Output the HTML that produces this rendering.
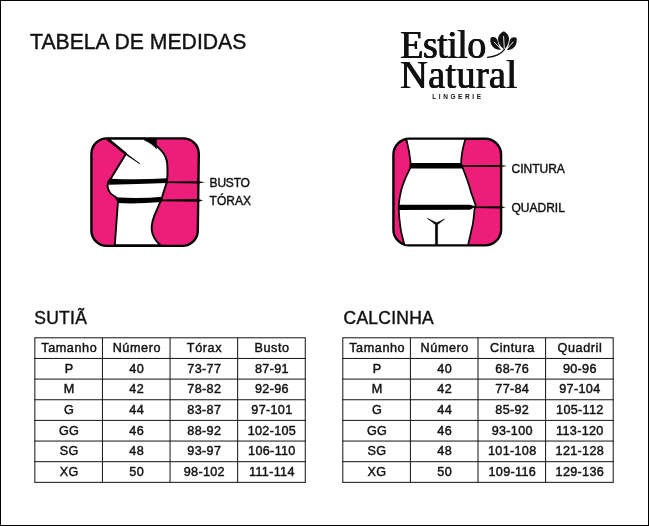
<!DOCTYPE html>
<html lang="pt-BR">
<head>
<meta charset="utf-8">
<title>Tabela de Medidas</title>
<style>
html,body{margin:0;padding:0;background:#fff;}
body{width:649px;height:526px;position:relative;overflow:hidden;font-family:"Liberation Sans",sans-serif;color:#111;}
#frame{position:absolute;left:0;top:0;width:647px;height:524px;border:1px solid #000;}
.abs{position:absolute;white-space:nowrap;line-height:1;}
#title{left:30.4px;top:31.6px;font-size:21.5px;transform:scaleX(0.986);transform-origin:0 0;-webkit-text-stroke:0.4px #111;}
.h2{font-size:17.5px;letter-spacing:0.25px;-webkit-text-stroke:0.4px #111;}
#h-sutia{left:34.3px;top:309.5px;}
#h-calc{left:343.5px;top:309.5px;}
.lbl{font-size:12px;-webkit-text-stroke:0.4px #111;}
#logo1,#logo2{font-family:"Liberation Serif",serif;font-size:38px;color:#111;transform-origin:0 0;text-shadow:0.55px 0 #111,-0.55px 0 #111;transform:scaleY(1.06);}
#logo1{left:400.3px;top:23.6px;letter-spacing:-0.55px;}
#logo2{left:400.3px;top:53.9px;letter-spacing:0.45px;}
#logo3{left:432.2px;top:94.2px;font-size:6.5px;font-weight:bold;letter-spacing:2.6px;}
svg{position:absolute;left:0;top:0;display:block;overflow:hidden;}
.tt text{font-family:"Liberation Sans",sans-serif;font-size:12.1px;text-anchor:middle;fill:#111;stroke:#111;stroke-width:0.42px;letter-spacing:0.3px;}
.tt .hd text{letter-spacing:0.55px;}
</style>
</head>
<body>
<div id="frame"></div>

<div id="title" class="abs">TABELA DE MEDIDAS</div>

<div id="logo1" class="abs">Estilo</div>
<div id="logo2" class="abs">Natural</div>
<div id="logo3" class="abs">LINGERIE</div>

<svg width="649" height="526" viewBox="0 0 649 526">
  <!-- leaf icon -->
  <g fill="#111" stroke="none">
    <path d="M503.9,31.2 C508,33.5 509.6,37 508.9,40.5 C508.3,44.5 506.5,47.5 504.3,49.5 C501.5,47.5 498.5,44 498.1,40 C497.8,36 500,33 503.9,31.2 Z"/>
    <path d="M490.4,38.2 C492,36.3 495.5,36.5 497.2,39.5 C498.3,42 498,45.5 501.3,49.8 C497,50.2 493,48.5 491.3,44.5 C490.5,42.5 490.2,40.5 490.4,38.2 Z"/>
    <path d="M516.7,38 C514.5,36.6 511.5,37.2 510.2,39.5 C509,42 509.3,45.5 506.8,49.8 C510.5,50.3 514.5,48.5 516,44.5 C516.7,42.5 516.9,40.5 516.7,38 Z"/>
  </g>
  <g fill="none" stroke="#fff" stroke-width="0.9" stroke-linecap="round">
    <path d="M503.6,36.5 L504.3,48.3"/>
    <path d="M494.1,42 L501.1,49.3"/>
    <path d="M513.1,42 L506.7,49.3"/>
  </g>
  <path d="M504.3,49.6 C502.5,52 500,53.8 497.6,54.8 C494.5,56.2 491,57 487.5,57.3" fill="none" stroke="#111" stroke-width="1.35" stroke-linecap="round"/>

  <!-- bust illustration -->
  <g id="ill1" stroke-linejoin="round">
    <path d="M106.9,138.4 L183.3,138.4 A15.5,15.5 0 0 1 198.8,153.9 L197.8,230.4 A15.5,15.5 0 0 1 182.3,245.9 L106.9,245.9 A15.5,15.5 0 0 1 91.4,230.4 L91.4,153.9 A15.5,15.5 0 0 1 106.9,138.4 Z" fill="#ed1e79" stroke="#000" stroke-width="2.4"/>
    <!-- body white -->
    <path d="M108,138.7 L126,153.8 L110.5,179 C105.8,184 106.6,192.5 115.5,196.8 L118,201 L114.8,245.2 L160.4,245.2 C150,236 149,226 156.8,210 L161.7,198.4 L164.1,190.3 C167,183 168,178 167.3,165 C167,153 158,146 145,138.7 Z" fill="#fff" stroke="#000" stroke-width="1.9"/>
    <!-- black wedge at top -->
    <path d="M144.5,139.3 L156.4,139.3 L156.4,148.8 C153.5,145.2 150,142.6 144.5,140.2 Z" fill="#000" stroke="#000" stroke-width="0.6"/>
    <!-- shoulder + arm line -->
    <path d="M107.6,139.4 L126,153.8" fill="none" stroke="#000" stroke-width="2.3"/>
    <path d="M125.2,152.8 L139.8,163.7 L126.4,154.9 Z" fill="#000" stroke="#000" stroke-width="0.7"/>
    <!-- bust band -->
    <path d="M111,178.7 Q137,180.2 167.4,178.3 L167.4,183 Q137,184.4 108.3,184.7 Z" fill="#000"/>
    <path d="M166,181.6 L198.6,181.2 L204.9,182.3 L198.6,183.4 L166,183 Z" fill="#000"/>
    <!-- torax band -->
    <path d="M115.5,197.2 Q138,199 163,196.7 L161.7,202 Q138,204 117.8,203.1 Z" fill="#000"/>
    <path d="M161,199.5 L198.5,199.1 L203,200.4 L198.5,201.7 L161,201.2 Z" fill="#000"/>
  </g>

  <!-- hip illustration -->
  <g id="ill2" stroke-linejoin="round">
    <rect x="393.4" y="138.7" width="107.7" height="106.7" rx="16" ry="16" fill="#ed1e79" stroke="#000" stroke-width="2.4"/>
    <path d="M406.3,139 L465.4,139 Q461.3,152 461.1,163.6 L463,168.7 C465.5,175 469,184 471,192.3 L475.7,205.4 L474.5,209.4 C474,215 473.5,220 472.8,224.2 L468.1,245 L404.6,245 C402.5,238 401.2,233 400.5,227.6 C399.5,221 399,216 398.8,210 L398.8,204.8 C399.3,199 400.2,194 401.3,190 C402.6,185 406.5,175.5 410.2,168.2 L410.6,162.7 Q409.5,151 406.3,139 Z" fill="#fff" stroke="#000" stroke-width="1.7"/>
    <!-- waist band -->
    <path d="M410,163.1 L461.3,163.1 L463.4,168.6 L409.8,168.4 Z" fill="#000"/>
    <path d="M461,165.3 L501,164.9 L507,166 L501,167.1 L461,166.7 Z" fill="#000"/>
    <!-- hip band -->
    <path d="M398.4,204.8 L470,204.8 L476,206.6 L470,209.8 L398.4,210 Z" fill="#000"/>
    <path d="M474,206.6 L501,206.2 L505.6,207.3 L501,208.4 L474,208 Z" fill="#000"/>
    <!-- Y -->
    <path d="M427.2,218.2 L436.6,222.8 L444.7,219 L437.6,224.6 L437.6,244.6 L435.4,244.6 L435.4,224.6 Z" fill="#000" stroke="#000" stroke-width="0.5"/>
  </g>
  <!-- table grids -->
  <g stroke="#111" stroke-width="1" fill="none">
    <line x1="34.35" y1="337.80" x2="305.75" y2="337.80"/>
    <line x1="34.35" y1="358.45" x2="305.75" y2="358.45"/>
    <line x1="34.35" y1="379.10" x2="305.75" y2="379.10"/>
    <line x1="34.35" y1="399.75" x2="305.75" y2="399.75"/>
    <line x1="34.35" y1="420.40" x2="305.75" y2="420.40"/>
    <line x1="34.35" y1="441.05" x2="305.75" y2="441.05"/>
    <line x1="34.35" y1="461.70" x2="305.75" y2="461.70"/>
    <line x1="34.35" y1="482.35" x2="305.75" y2="482.35"/>
    <line x1="34.85" y1="337.80" x2="34.85" y2="482.35"/>
    <line x1="102.45" y1="337.80" x2="102.45" y2="482.35"/>
    <line x1="170.05" y1="337.80" x2="170.05" y2="482.35"/>
    <line x1="237.65" y1="337.80" x2="237.65" y2="482.35"/>
    <line x1="305.25" y1="337.80" x2="305.25" y2="482.35"/>
    <line x1="342.30" y1="337.80" x2="613.70" y2="337.80"/>
    <line x1="342.30" y1="358.45" x2="613.70" y2="358.45"/>
    <line x1="342.30" y1="379.10" x2="613.70" y2="379.10"/>
    <line x1="342.30" y1="399.75" x2="613.70" y2="399.75"/>
    <line x1="342.30" y1="420.40" x2="613.70" y2="420.40"/>
    <line x1="342.30" y1="441.05" x2="613.70" y2="441.05"/>
    <line x1="342.30" y1="461.70" x2="613.70" y2="461.70"/>
    <line x1="342.30" y1="482.35" x2="613.70" y2="482.35"/>
    <line x1="342.80" y1="337.80" x2="342.80" y2="482.35"/>
    <line x1="410.40" y1="337.80" x2="410.40" y2="482.35"/>
    <line x1="478.00" y1="337.80" x2="478.00" y2="482.35"/>
    <line x1="545.60" y1="337.80" x2="545.60" y2="482.35"/>
    <line x1="613.20" y1="337.80" x2="613.20" y2="482.35"/>
  </g>
  <!-- table text -->
  <g id="t1" class="tt">
    <g class="hd">
      <text transform="translate(69.24,351.95) scale(1.045,1)">Tamanho</text>
      <text transform="translate(136.84,351.95) scale(1.045,1)">Número</text>
      <text transform="translate(204.44,351.95) scale(1.045,1)">Tórax</text>
      <text transform="translate(272.04,351.95) scale(1.045,1)">Busto</text>
    </g>
    <g class="rw">
      <text transform="translate(69.11,372.61) scale(1.045,1)">P</text>
      <text transform="translate(136.71,372.61) scale(1.045,1)">40</text>
      <text transform="translate(204.31,372.61) scale(1.045,1)">73-77</text>
      <text transform="translate(271.91,372.61) scale(1.045,1)">87-91</text>
    </g>
    <g class="rw">
      <text transform="translate(69.11,393.27) scale(1.045,1)">M</text>
      <text transform="translate(136.71,393.27) scale(1.045,1)">42</text>
      <text transform="translate(204.31,393.27) scale(1.045,1)">78-82</text>
      <text transform="translate(271.91,393.27) scale(1.045,1)">92-96</text>
    </g>
    <g class="rw">
      <text transform="translate(69.11,413.93) scale(1.045,1)">G</text>
      <text transform="translate(136.71,413.93) scale(1.045,1)">44</text>
      <text transform="translate(204.31,413.93) scale(1.045,1)">83-87</text>
      <text transform="translate(271.91,413.93) scale(1.045,1)">97-101</text>
    </g>
    <g class="rw">
      <text transform="translate(69.11,434.59) scale(1.045,1)">GG</text>
      <text transform="translate(136.71,434.59) scale(1.045,1)">46</text>
      <text transform="translate(204.31,434.59) scale(1.045,1)">88-92</text>
      <text transform="translate(271.91,434.59) scale(1.045,1)">102-105</text>
    </g>
    <g class="rw">
      <text transform="translate(69.11,455.25) scale(1.045,1)">SG</text>
      <text transform="translate(136.71,455.25) scale(1.045,1)">48</text>
      <text transform="translate(204.31,455.25) scale(1.045,1)">93-97</text>
      <text transform="translate(271.91,455.25) scale(1.045,1)">106-110</text>
    </g>
    <g class="rw">
      <text transform="translate(69.11,475.91) scale(1.045,1)">XG</text>
      <text transform="translate(136.71,475.91) scale(1.045,1)">50</text>
      <text transform="translate(204.31,475.91) scale(1.045,1)">98-102</text>
      <text transform="translate(271.91,475.91) scale(1.045,1)">111-114</text>
    </g>
  </g>
  <g id="t2" class="tt">
    <g class="hd">
      <text transform="translate(377.19,351.95) scale(1.045,1)">Tamanho</text>
      <text transform="translate(444.79,351.95) scale(1.045,1)">Número</text>
      <text transform="translate(512.39,351.95) scale(1.045,1)">Cintura</text>
      <text transform="translate(579.99,351.95) scale(1.045,1)">Quadril</text>
    </g>
    <g class="rw">
      <text transform="translate(377.06,372.61) scale(1.045,1)">P</text>
      <text transform="translate(444.66,372.61) scale(1.045,1)">40</text>
      <text transform="translate(512.26,372.61) scale(1.045,1)">68-76</text>
      <text transform="translate(579.86,372.61) scale(1.045,1)">90-96</text>
    </g>
    <g class="rw">
      <text transform="translate(377.06,393.27) scale(1.045,1)">M</text>
      <text transform="translate(444.66,393.27) scale(1.045,1)">42</text>
      <text transform="translate(512.26,393.27) scale(1.045,1)">77-84</text>
      <text transform="translate(579.86,393.27) scale(1.045,1)">97-104</text>
    </g>
    <g class="rw">
      <text transform="translate(377.06,413.93) scale(1.045,1)">G</text>
      <text transform="translate(444.66,413.93) scale(1.045,1)">44</text>
      <text transform="translate(512.26,413.93) scale(1.045,1)">85-92</text>
      <text transform="translate(579.86,413.93) scale(1.045,1)">105-112</text>
    </g>
    <g class="rw">
      <text transform="translate(377.06,434.59) scale(1.045,1)">GG</text>
      <text transform="translate(444.66,434.59) scale(1.045,1)">46</text>
      <text transform="translate(512.26,434.59) scale(1.045,1)">93-100</text>
      <text transform="translate(579.86,434.59) scale(1.045,1)">113-120</text>
    </g>
    <g class="rw">
      <text transform="translate(377.06,455.25) scale(1.045,1)">SG</text>
      <text transform="translate(444.66,455.25) scale(1.045,1)">48</text>
      <text transform="translate(512.26,455.25) scale(1.045,1)">101-108</text>
      <text transform="translate(579.86,455.25) scale(1.045,1)">121-128</text>
    </g>
    <g class="rw">
      <text transform="translate(377.06,475.91) scale(1.045,1)">XG</text>
      <text transform="translate(444.66,475.91) scale(1.045,1)">50</text>
      <text transform="translate(512.26,475.91) scale(1.045,1)">109-116</text>
      <text transform="translate(579.86,475.91) scale(1.045,1)">129-136</text>
    </g>
  </g>
</svg>

<div class="abs lbl" style="left:209.6px;top:177px;letter-spacing:-0.2px;">BUSTO</div>
<div class="abs lbl" style="left:209.6px;top:195px;">TÓRAX</div>
<div class="abs lbl" style="left:511.5px;top:163px;">CINTURA</div>
<div class="abs lbl" style="left:511.5px;top:202px;">QUADRIL</div>

<div id="h-sutia" class="abs h2">SUTIÃ</div>
<div id="h-calc" class="abs h2">CALCINHA</div>

</body>
</html>
